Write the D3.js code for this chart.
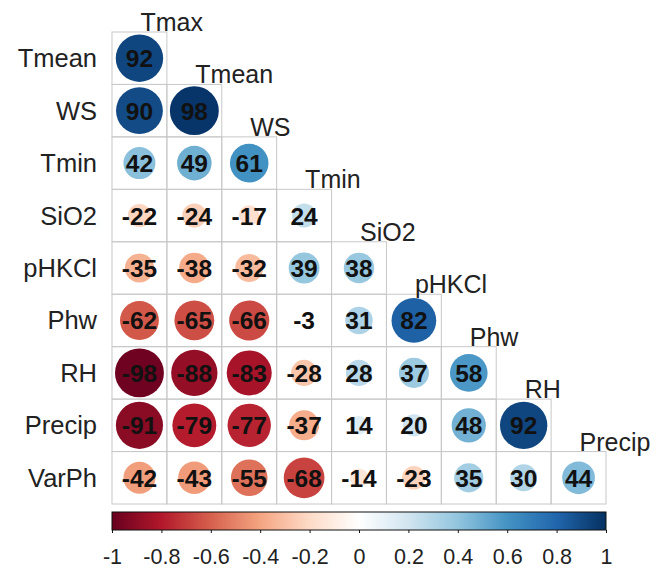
<!DOCTYPE html>
<html>
<head>
<meta charset="utf-8">
<script src="https://cdn.jsdelivr.net/npm/d3@7"></script>
<style>
  body { margin: 0; background: #fff; }
  text { font-family: "Liberation Sans", Arial, sans-serif; }
</style>
</head>
<body>
<div id="plot"></div>
<script>
var rowNames = ["Tmean", "WS", "Tmin", "SiO2", "pHKCl", "Phw", "RH", "Precip", "VarPh"];
var colNames = ["Tmax", "Tmean", "WS", "Tmin", "SiO2", "pHKCl", "Phw", "RH", "Precip"];
// lower triangle, one array per row (x100)
var corrRows = [
    [92],
    [90, 98],
    [42, 49, 61],
    [-22, -24, -17, 24],
    [-35, -38, -32, 39, 38],
    [-62, -65, -66, -3, 31, 82],
    [-98, -88, -83, -28, 28, 37, 58],
    [-91, -79, -77, -37, 14, 20, 48, 92],
    [-42, -43, -55, -68, -14, -23, 35, 30, 44]
];
var legendTicks = [-1, -0.8, -0.6, -0.4, -0.2, 0, 0.2, 0.4, 0.6, 0.8, 1];
var paletteStops = ["#67001F", "#B2182B", "#D6604D", "#F4A582", "#FDDBC7", "#FFFFFF",
    "#D1E5F0", "#92C5DE", "#4393C3", "#2166AC", "#053061"];

var width = 657, height = 570;
var gridLeft = 112, gridRight = 606, gridTop = 32, gridBottom = 504;

var svg = d3.select("#plot").append("svg")
    .attr("width", width)
    .attr("height", height);

var x = d3.scaleBand().domain(colNames).range([gridLeft, gridRight]);
var y = d3.scaleBand().domain(rowNames).range([gridTop, gridBottom]);

var color = d3.scaleLinear()
    .domain(d3.range(paletteStops.length).map(function (i) { return -1 + 2 * i / (paletteStops.length - 1); }))
    .range(paletteStops);

var cells = [];
corrRows.forEach(function (vals, i) {
    vals.forEach(function (v, j) {
        cells.push({ row: rowNames[i], col: colNames[j], v: v });
    });
});

var rMax = x.bandwidth() * 0.45;

// cell borders
svg.append("g").selectAll("rect")
    .data(cells)
    .enter().append("rect")
    .attr("x", function (d) { return x(d.col); })
    .attr("y", function (d) { return y(d.row); })
    .attr("width", x.bandwidth())
    .attr("height", y.bandwidth())
    .attr("fill", "none")
    .attr("stroke", "#c8c8c8")
    .attr("stroke-width", 1);

// circles
svg.append("g").selectAll("circle")
    .data(cells)
    .enter().append("circle")
    .attr("cx", function (d) { return x(d.col) + x.bandwidth() / 2; })
    .attr("cy", function (d) { return y(d.row) + y.bandwidth() / 2; })
    .attr("r", function (d) { return Math.sqrt(Math.abs(d.v) / 100) * rMax; })
    .attr("fill", function (d) { return color(d.v / 100); });

// numbers
svg.append("g").selectAll("text")
    .data(cells)
    .enter().append("text")
    .attr("x", function (d) { return x(d.col) + x.bandwidth() / 2; })
    .attr("y", function (d) { return y(d.row) + y.bandwidth() / 2 + 9; })
    .attr("text-anchor", "middle")
    .attr("font-size", "24.5px")
    .attr("font-weight", "bold")
    .attr("fill", "#111")
    .text(function (d) { return d.v; });

// row labels
svg.append("g").selectAll("text")
    .data(rowNames)
    .enter().append("text")
    .attr("x", gridLeft - 15)
    .attr("y", function (d) { return y(d) + y.bandwidth() / 2 + 9; })
    .attr("text-anchor", "end")
    .attr("font-size", "25.5px")
    .attr("fill", "#222")
    .text(function (d) { return d; });

// diagonal column labels
svg.append("g").selectAll("text")
    .data(colNames)
    .enter().append("text")
    .attr("x", function (d) { return x(d) + x.bandwidth() / 2 + 1; })
    .attr("y", function (d, i) { return y(rowNames[i]) - 1; })
    .attr("text-anchor", "start")
    .attr("font-size", "25px")
    .attr("fill", "#222")
    .text(function (d) { return d; });

// colour legend
var barTop = 512, barH = 18;
var lx = d3.scaleLinear().domain([-1, 1]).range([gridLeft, gridRight]);

var grad = svg.append("defs").append("linearGradient")
    .attr("id", "corrGrad")
    .attr("x1", "0%").attr("x2", "100%");
grad.selectAll("stop")
    .data(d3.range(0, 1.0001, 0.05))
    .enter().append("stop")
    .attr("offset", function (t) { return (t * 100) + "%"; })
    .attr("stop-color", function (t) { return color(-1 + 2 * t); });

svg.append("rect")
    .attr("x", gridLeft)
    .attr("y", barTop)
    .attr("width", gridRight - gridLeft)
    .attr("height", barH)
    .attr("fill", "url(#corrGrad)")
    .attr("stroke", "#111")
    .attr("stroke-width", 1);

var axis = svg.append("g")
    .attr("transform", "translate(0," + (barTop + barH) + ")")
    .call(d3.axisBottom(lx)
        .tickValues(legendTicks)
        .tickSize(3)
        .tickFormat(function (d) { return String(+d.toFixed(1)); }));
axis.select(".domain").remove();
axis.selectAll("line").attr("stroke", "#111");
axis.selectAll("text")
    .attr("y", 19)
    .attr("font-size", "21.5px")
    .attr("font-family", "\"Liberation Sans\", Arial, sans-serif")
    .attr("fill", "#222");
</script>
</body>
</html>
